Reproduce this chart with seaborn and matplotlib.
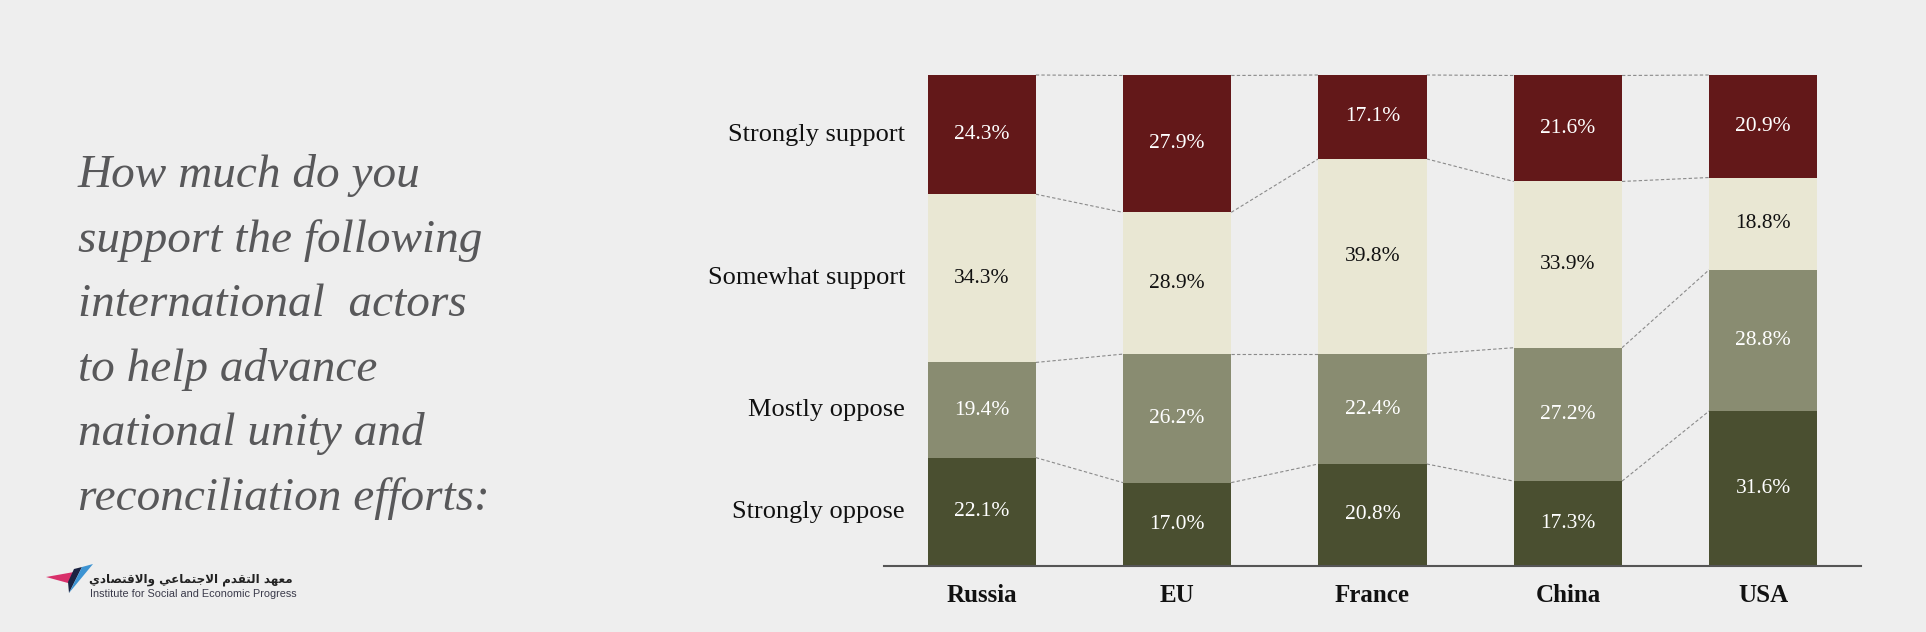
import numpy as np
import pandas as pd
import matplotlib
matplotlib.use("Agg")
import matplotlib.pyplot as plt
import seaborn as sns
from matplotlib.patches import Polygon

# ---------------- data ----------------
countries = ["Russia", "EU", "France", "China", "USA"]
categories = ["Strongly oppose", "Mostly oppose", "Somewhat support", "Strongly support"]
strongly_oppose = [22.1, 17.0, 20.8, 17.3, 31.6]
mostly_oppose = [19.4, 26.2, 22.4, 27.2, 28.8]
somewhat_support = [34.3, 28.9, 39.8, 33.9, 18.8]
strongly_support = [24.3, 27.9, 17.1, 21.6, 20.9]

title_lines = ["How much do you", "support the following", "international  actors",
               "to help advance", "national unity and", "reconciliation efforts:"]
logo_en = "Institute for Social and Economic Progress"
# "معهد التقدم الاجتماعي والاقتصادي" in shaped presentation forms (logical order)
logo_ar_shaped = ("\uFEE3\uFECC\uFEEC\uFEAA \uFE8D\uFEDF\uFE98\uFED8\uFEAA\uFEE1 "
                  "\uFE8D\uFEFB\uFE9F\uFE98\uFEE4\uFE8E\uFECB\uFEF2 "
                  "\uFEED\uFE8D\uFEFB\uFED7\uFE98\uFEBC\uFE8E\uFEA9\uFEF1")

# ---------------- style ----------------
BG = "#EEEEEE"
colors = ["#4A4F30", "#898C71", "#E9E7D3", "#631819"]
text_colors = ["white", "white", "#111111", "white"]
SERIF = "Liberation Serif"
BAR_W = 0.554

sns.set_style("white")
plt.rcParams["font.family"] = [SERIF, "DejaVu Sans"]

W, H = 1926, 632
fig = plt.figure(figsize=(W / 100, H / 100), dpi=100, facecolor=BG)

def fx(px):
    return px / W

def fy(py):
    return 1 - py / H

ax = fig.add_axes([fx(884), fy(566), fx(1861 - 884), (566 - 75) / H])
ax.set_facecolor(BG)

layers = np.array([strongly_oppose, mostly_oppose, somewhat_support, strongly_support])
cum = np.cumsum(layers, axis=0)

# stacked bars: draw cumulative totals from top layer down
for k in range(len(categories) - 1, -1, -1):
    df = pd.DataFrame({"country": countries, "value": cum[k]})
    sns.barplot(data=df, x="country", y="value", color=colors[k], saturation=1,
                width=BAR_W, errorbar=None, linewidth=0, ax=ax, zorder=2)

# value labels
for k in range(len(categories)):
    for i in range(len(countries)):
        yc = cum[k][i] - layers[k][i] / 2
        ax.text(i, yc, f"{layers[k][i]:.1f}%", ha="center", va="center",
                fontsize=15.5, color=text_colors[k], family=SERIF, zorder=5)

# dashed connectors
for k in range(len(categories)):
    for i in range(len(countries) - 1):
        ax.plot([i + BAR_W / 2, i + 1 - BAR_W / 2], [cum[k][i], cum[k][i + 1]],
                color="#8A8A8A", lw=0.8, ls=(0, (3, 2)), clip_on=False, zorder=1)

# row labels beside first bar
for k, cat in enumerate(categories):
    yc = cum[k][0] - layers[k][0] / 2
    ax.text(-BAR_W / 2 - 0.115, yc, cat, ha="right", va="center",
            fontsize=19, color="#111111", family=SERIF)

ax.set_xlim(-0.5, 4.5)
ax.set_ylim(0, cum[-1].max())
ax.set_xlabel("")
ax.set_ylabel("")
ax.set_yticks([])
ax.set_xticks(range(len(countries)))
ax.set_xticklabels(countries, fontsize=18, fontweight="bold", family=SERIF, color="#111111")
ax.tick_params(axis="x", length=0, pad=13)
for s in ["top", "right", "left"]:
    ax.spines[s].set_visible(False)
ax.spines["bottom"].set_color("#555555")
ax.spines["bottom"].set_linewidth(1.5)
ax.spines["bottom"].set_zorder(6)

# title
for j, line in enumerate(title_lines):
    fig.text(fx(78), fy(187 + j * 64.6), line, ha="left", va="baseline",
             fontsize=34, style="italic", family=SERIF, color="#58585A")

# logo
pink = [(46, 577), (74, 572), (68, 583)]
navy = [(74, 569), (82, 567), (69, 593), (68, 582)]
blue = [(82, 567), (93, 564), (69, 593)]
for pts, c in [(pink, "#D8306A"), (navy, "#1B2342"), (blue, "#3C93D2")]:
    fig.patches.append(Polygon([(fx(x), fy(y)) for x, y in pts], closed=True,
                               transform=fig.transFigure, facecolor=c, edgecolor="none"))
fig.text(fx(293), fy(580), logo_ar_shaped[::-1], ha="right", va="center", fontsize=8.6,
         fontweight="bold", family=["DejaVu Sans", "Noto Sans"], color="#222222")
fig.text(fx(90), fy(594), logo_en, ha="left", va="center", fontsize=7.8,
         family=["Liberation Sans", "DejaVu Sans"], color="#3A3A4A")

fig.savefig("out.png", dpi=100, facecolor=BG)
